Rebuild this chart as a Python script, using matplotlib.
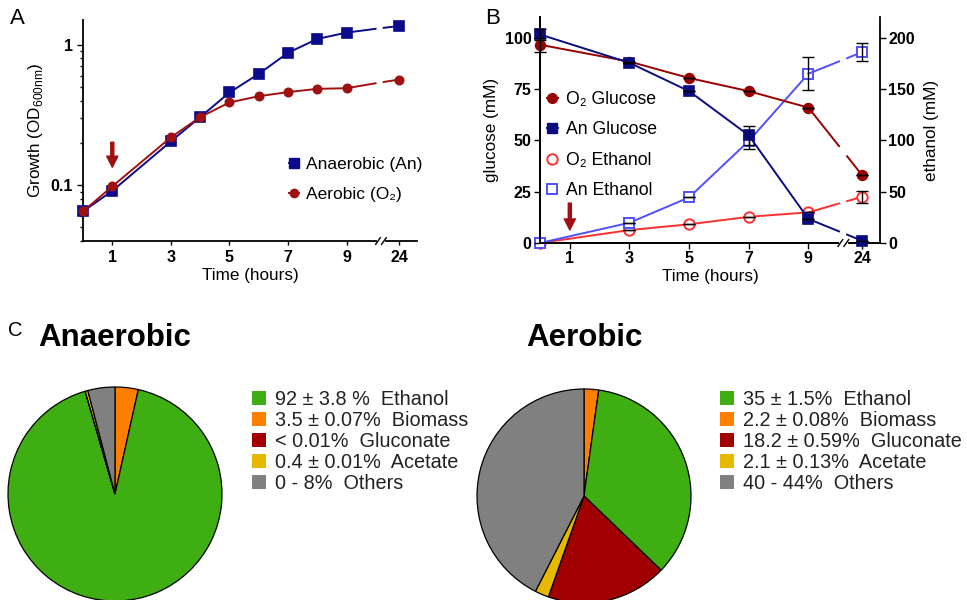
import numpy as np
import matplotlib
matplotlib.use("Agg")
import matplotlib.pyplot as plt
import matplotlib.transforms as mtransforms

plt.rcParams['font.family'] = ['Liberation Sans', 'DejaVu Sans']

# ---- data ----
hours = [0, 1, 3, 4, 5, 6, 7, 8, 9, 24]
od_an = [0.065, 0.091, 0.205, 0.305, 0.457, 0.62, 0.877, 1.10, 1.22, 1.36]
od_o2 = [0.065, 0.098, 0.219, 0.305, 0.388, 0.43, 0.46, 0.485, 0.49, 0.565]

hours_b = [0, 3, 5, 7, 9, 24]
glc_o2 = [96.5, 88.3, 80.3, 73.9, 65.9, 33.0]
glc_o2_err = [3.5, 0, 0, 0, 0, 0]
glc_an = [101.5, 87.7, 73.9, 52.4, 11.7, 1.1]
glc_an_err = [2.5, 0, 0, 4.5, 0, 0]
eth_o2 = [0, 12.6, 18.2, 25.5, 29.8, 45.0]
eth_o2_err = [0, 0, 0, 0, 0, 6.0]
eth_an = [0, 19.7, 44.4, 99.3, 164.8, 185.8]
eth_an_err = [0, 0, 0, 8.0, 16.0, 8.6]

tick_hours = [1, 3, 5, 7, 9, 24]

pie_names = ['Biomass', 'Ethanol', 'Gluconate', 'Acetate', 'Others']
pie_colors = ['#ff7f00', '#3fae12', '#a00000', '#e6b800', '#808080']
anaer_vals = [3.5, 92, 0.01, 0.4]
anaer_vals = anaer_vals + [100 - sum(anaer_vals)]
aer_vals = [2.2, 35, 18.2, 2.1]
aer_vals = aer_vals + [100 - sum(aer_vals)]
anaer_labels = {'Ethanol': '92 \u00b1 3.8 %  Ethanol', 'Biomass': '3.5 \u00b1 0.07%  Biomass',
                'Gluconate': '< 0.01%  Gluconate', 'Acetate': '0.4 \u00b1 0.01%  Acetate',
                'Others': '0 - 8%  Others'}
aer_labels = {'Ethanol': '35 \u00b1 1.5%  Ethanol', 'Biomass': '2.2 \u00b1 0.08%  Biomass',
              'Gluconate': '18.2 \u00b1 0.59%  Gluconate', 'Acetate': '2.1 \u00b1 0.13%  Acetate',
              'Others': '40 - 44%  Others'}
legend_order = ['Ethanol', 'Biomass', 'Gluconate', 'Acetate', 'Others']

W, H = 967, 600
TICK_FS = 11.5


def pos(h):
    # hours after 9 are squeezed behind the axis break
    return h if h <= 9 else 10.8


def fig_rect(x0, y0, x1, y1):
    return [x0 / W, 1 - y1 / H, (x1 - x0) / W, (y1 - y0) / H]


def draw_series(ax, xs, ys, logy=False, gap=(0.57, 0.72), **kw):
    xs = [pos(h) for h in xs]
    mk = dict(marker=kw.pop('marker'), ms=kw.pop('ms'), mfc=kw.pop('mfc'),
              mew=kw.pop('mew', 1.2))
    ax.plot(xs[:-1], ys[:-1], clip_on=False, zorder=3, **kw, **mk)
    # last segment with a gap at the axis break
    x0, x1 = xs[-2], xs[-1]
    f = lambda a, b, t: (10 ** (np.log10(a) + t * (np.log10(b) - np.log10(a)))
                         if logy else a + t * (b - a))
    ax.plot([x0, f(x0, x1, gap[0])], [ys[-2], f(ys[-2], ys[-1], gap[0])], zorder=3, **kw)
    ax.plot([f(x0, x1, gap[1]), x1], [f(ys[-2], ys[-1], gap[1]), ys[-1]], zorder=3, **kw)
    ax.plot([x1], [ys[-1]], clip_on=False, zorder=3, color=kw['color'], **mk)


def axis_break(ax, xb=10.17):
    tr = mtransforms.blended_transform_factory(ax.transData, ax.transAxes)
    ax.plot([xb - 0.08, xb + 0.08], [0, 0], color='white', lw=3, transform=tr, clip_on=False, zorder=5)
    for dx in (-0.1, 0.1):
        ax.plot([xb + dx - 0.08, xb + dx + 0.08], [-0.015, 0.015], color='black', lw=1,
                transform=tr, clip_on=False, zorder=6)


fig = plt.figure(figsize=(W / 100, H / 100), dpi=100)

# ---- panel A ----
axA = fig.add_axes(fig_rect(83, 20, 417, 241))
draw_series(axA, hours, od_an, logy=True, color='#0a0a8c', lw=1.4, marker='s', ms=6.5, mfc='#0a0a8c')
draw_series(axA, hours, od_o2, logy=True, color='#a01010', lw=1.4, marker='o', ms=6, mfc='#a01010')
axA.set_yscale('log')
axA.set_ylim(0.04, 1.5)
axA.set_xlim(0, 11.4)
axA.set_xticks([pos(h) for h in tick_hours])
axA.set_xticklabels([str(h) for h in tick_hours], fontweight='bold', fontsize=TICK_FS)
axA.set_yticks([0.1, 1])
axA.set_yticklabels(['0.1', '1'], fontweight='bold', fontsize=TICK_FS)
axA.tick_params(axis='both', which='major', length=4, width=1)
axA.tick_params(axis='y', which='minor', length=2.5, width=1)
axA.tick_params(axis='x', length=3)
axA.spines['top'].set_visible(False)
axA.spines['right'].set_visible(False)
for s in ('left', 'bottom'):
    axA.spines[s].set_linewidth(1.3)
axA.set_xlabel('Time (hours)', fontsize=12.3, labelpad=2)
axA.set_ylabel(r'Growth (OD$_\mathregular{600nm}$)', fontsize=12.3, labelpad=4)
axA.annotate('', xy=(1, 0.134), xytext=(1, 0.202),
             arrowprops=dict(facecolor='#a01010', edgecolor='#a01010', width=2.2,
                             headwidth=8, headlength=8, shrink=0))
axis_break(axA)
hA = [plt.Line2D([], [], color='#0a0a8c', marker='s', ms=6.5, lw=1.4),
      plt.Line2D([], [], color='#a01010', marker='o', ms=6, lw=1.4)]
axA.legend(hA, ['Anaerobic (An)', 'Aerobic (O\u2082)'], loc='upper left',
           bbox_to_anchor=(289 / W, 1 - 157 / H), bbox_transform=fig.transFigure,
           frameon=False, fontsize=12.5, handlelength=0.6, handletextpad=0.4,
           labelspacing=0.85, borderpad=0, borderaxespad=0)
fig.text(10 / W, 1 - 18 / H, 'A', fontsize=16, va='center', ha='left')

# ---- panel B ----
axB = fig.add_axes(fig_rect(540, 17, 880, 243))
axB2 = axB.twinx()
axB.set_zorder(axB2.get_zorder() + 1)
axB.patch.set_visible(False)

draw_series(axB, hours_b, glc_o2, color='#990000', lw=1.4, marker='o', ms=7, mfc='#990000')
draw_series(axB, hours_b, glc_an, color='#0b0b80', lw=1.4, marker='s', ms=7, mfc='#0b0b80')
draw_series(axB2, hours_b, eth_o2, color='#ff3030', lw=1.4, marker='o', ms=7.5, mfc='white', mew=1.4)
draw_series(axB2, hours_b, eth_an, color='#5050ff', lw=1.4, marker='s', ms=7.5, mfc='white', mew=1.4)
xb = [pos(h) for h in hours_b]
axB.errorbar(xb, glc_o2, yerr=glc_o2_err, fmt='none', ecolor='black', elinewidth=1, capsize=4, zorder=4, clip_on=False)
axB.errorbar(xb, glc_an, yerr=glc_an_err, fmt='none', ecolor='black', elinewidth=1, capsize=4, zorder=4, clip_on=False)
axB2.errorbar(xb, eth_o2, yerr=eth_o2_err, fmt='none', ecolor='black', elinewidth=1, capsize=4, zorder=4)
axB2.errorbar(xb, eth_an, yerr=eth_an_err, fmt='none', ecolor='black', elinewidth=1, capsize=4, zorder=4)

axB.set_xlim(0, 11.4)
axB.set_ylim(0, 110)
axB2.set_ylim(0, 220)
axB.set_xticks([pos(h) for h in tick_hours])
axB.set_xticklabels([str(h) for h in tick_hours], fontweight='bold', fontsize=TICK_FS)
axB.set_yticks([0, 25, 50, 75, 100])
axB.set_yticklabels(['0', '25', '50', '75', '100'], fontweight='bold', fontsize=TICK_FS)
axB2.set_yticks([0, 50, 100, 150, 200])
axB2.set_yticklabels(['0', '50', '100', '150', '200'], fontweight='bold', fontsize=TICK_FS)
for a in (axB, axB2):
    a.tick_params(length=4, width=1, pad=2)
    a.spines['top'].set_visible(False)
    for s in ('left', 'bottom', 'right'):
        a.spines[s].set_linewidth(1.3)
axB.spines['right'].set_visible(False)
axB.set_xlabel('Time (hours)', fontsize=12.3, labelpad=2)
axB.set_ylabel('glucose (mM)', fontsize=12.3, labelpad=4)
axB2.set_ylabel('ethanol (mM)', fontsize=12.3, labelpad=6)
axB.annotate('', xy=(1, 6.3), xytext=(1, 19.4),
             arrowprops=dict(facecolor='#a01010', edgecolor='#a01010', width=2.2,
                             headwidth=8, headlength=8, shrink=0))
axis_break(axB)
hB = [plt.Line2D([], [], color='#990000', marker='o', ms=7, lw=1.4),
      plt.Line2D([], [], color='#0b0b80', marker='s', ms=7, lw=1.4),
      plt.Line2D([], [], color='#ff3030', marker='o', ms=7.5, mfc='white', mew=1.4, lw=0),
      plt.Line2D([], [], color='#5050ff', marker='s', ms=7.5, mfc='white', mew=1.4, lw=0)]
axB.legend(hB, ['O\u2082 Glucose', 'An Glucose', 'O\u2082 Ethanol', 'An Ethanol'],
           loc='upper left', bbox_to_anchor=(547 / W, 1 - 91 / H), bbox_transform=fig.transFigure,
           frameon=False, fontsize=12.7, handlelength=0.6, handletextpad=0.5,
           labelspacing=0.76, borderpad=0, borderaxespad=0)
fig.text(485 / W, 1 - 18 / H, 'B', fontsize=16, va='center', ha='left')

# ---- panel C: pies ----
def pie_panel(cx, cy, r, vals, title, labels, leg_x, leg_y):
    ax = fig.add_axes(fig_rect(cx - r, cy - r, cx + r, cy + r))
    wedges, _ = ax.pie(vals, colors=pie_colors, startangle=90, counterclock=False,
                       wedgeprops=dict(edgecolor='black', linewidth=0.9), radius=1)
    ax.set_xlim(-1, 1)
    ax.set_ylim(-1, 1)
    ax.set_aspect('equal')
    ax.axis('off')
    fig.text(cx / W, 1 - 338 / H, title, fontsize=22.5, fontweight='bold', ha='center', va='center')
    hs = [wedges[pie_names.index(n)] for n in legend_order]
    ax.legend(hs, [labels[n] for n in legend_order], loc='upper left',
              bbox_to_anchor=(leg_x / W, 1 - leg_y / H), bbox_transform=fig.transFigure,
              frameon=False, fontsize=14.3, handlelength=0.7, handleheight=0.7,
              handletextpad=0.45, labelspacing=0.1, borderpad=0, borderaxespad=0,
              labelcolor='#222222')
    for p in ax.get_legend().get_patches():
        p.set_edgecolor('none')
    return ax


pie_panel(115, 494, 107, anaer_vals, 'Anaerobic', anaer_labels, 252, 390)
pie_panel(584, 496, 107, aer_vals, 'Aerobic', aer_labels, 720, 390)
fig.text(8 / W, 1 - 330 / H, 'C', fontsize=14.5, va='center', ha='left')

fig.savefig('out.png', dpi=100)
